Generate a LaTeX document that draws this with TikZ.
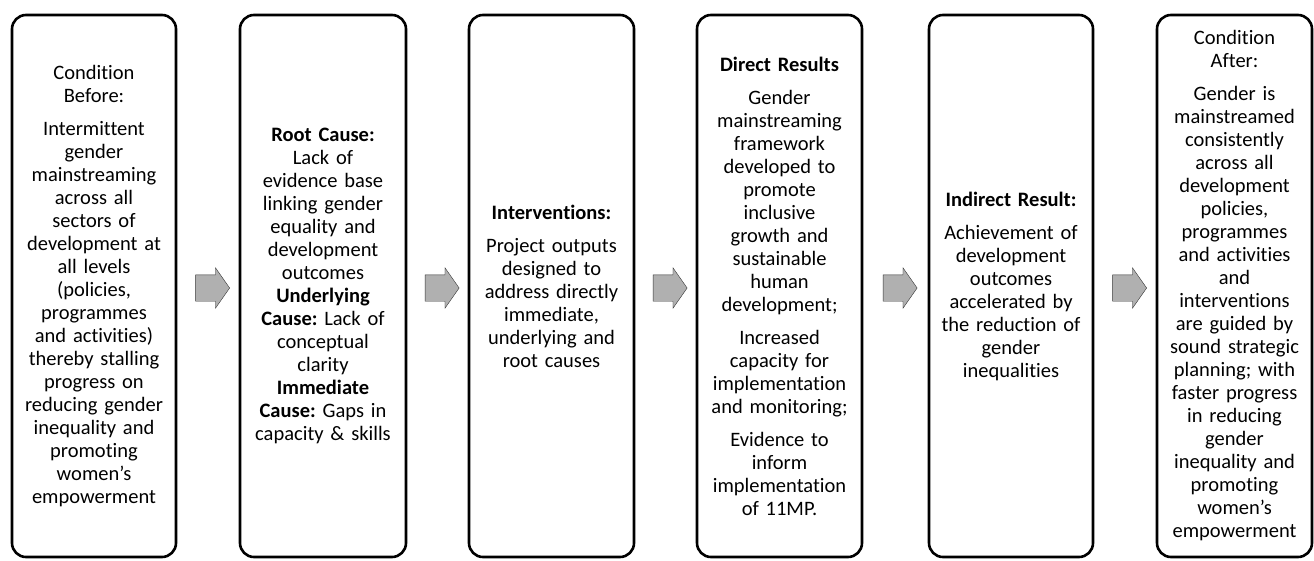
\documentclass[tikz,border=0pt]{standalone}
\usepackage{fontspec}
\setmainfont{Carlito}[Ligatures={TeX,NoCommon}]
\usetikzlibrary{shapes.arrows,calc}
\frenchspacing
\tikzset{
  stage/.style={draw,line width=2.6pt,rounded corners=14pt,align=center,
    minimum height=542pt,text width=170pt,inner xsep=-8pt,inner ysep=0pt,
    font=\fontsize{20.5}{23}\selectfont},
  flow/.style={single arrow,draw=black!80,thin,fill=gray!62,minimum height=34pt,
    inner xsep=0pt,inner ysep=13pt,single arrow head extend=7pt,
    single arrow tip angle=110}
}
\begin{document}
\begin{tikzpicture}[x=1pt,y=-1pt]
  \useasboundingbox (0,0) rectangle (1314,560);
  % stages
  \node[stage,minimum width=164pt] (before) at (94,286)
    {Condition\\ Before:\\[10pt] Intermittent\\ gender\\ mainstreaming\\ across all\\ sectors of\\
     development at\\ all levels\\ (policies,\\ programmes\\ and activities)\\ thereby stalling\\
     progress on\\ reducing gender\\ inequality and\\ promoting\\ women's\\ empowerment};
  \node[stage,minimum width=166pt] (cause) at (323,286)
    {\textbf{Root Cause:}\\ Lack of\\ evidence base\\ linking gender\\ equality and\\ development\\
     outcomes\\ \textbf{Underlying}\\ \textbf{Cause:} Lack of\\ conceptual\\ clarity\\
     \textbf{Immediate}\\ \textbf{Cause:} Gaps in\\ capacity \& skills};
  \node[stage,minimum width=165pt] (interv) at (551.5,286)
    {\textbf{Interventions:}\\[10pt] Project outputs\\ designed to\\ address directly\\ immediate,\\
     underlying and\\ root causes};
  \node[stage,minimum width=165pt] (direct) at (779.5,286)
    {\textbf{Direct Results}\\[10pt] Gender\\ mainstreaming\\ framework\\ developed to\\ promote\\
     inclusive\\ growth and\\ sustainable\\ human\\ development;\\[10pt] Increased\\ capacity for\\
     implementation\\ and monitoring;\\[10pt] Evidence to\\ inform\\ implementation\\ of 11MP.};
  \node[stage,minimum width=164pt] (indirect) at (1011,286)
    {\textbf{Indirect Result:}\\[10pt] Achievement of\\ development\\ outcomes\\ accelerated by\\
     the reduction of\\ gender\\ inequalities};
  \node[stage,minimum width=155pt] (after) at (1234.5,286)
    {Condition\\ After:\\[10pt] Gender is\\ mainstreamed\\ consistently\\ across all\\ development\\
     policies,\\ programmes\\ and activities\\ and\\ interventions\\ are guided by\\ sound strategic\\
     planning; with\\ faster progress\\ in reducing\\ gender\\ inequality and\\ promoting\\ women{\char"27}s\\
     empowerment};
  % arrows between stages
  \node[flow] (a1) at ($(before.east)!0.5!(cause.west)+(0,2)$) {};
  \node[flow] (a2) at ($(cause.east)!0.5!(interv.west)+(0,2)$) {};
  \node[flow] (a3) at ($(interv.east)!0.5!(direct.west)+(0,2)$) {};
  \node[flow] (a4) at ($(direct.east)!0.5!(indirect.west)+(0,2)$) {};
  \node[flow] (a5) at ($(indirect.east)!0.5!(after.west)+(0,2)$) {};
\end{tikzpicture}
\end{document}
